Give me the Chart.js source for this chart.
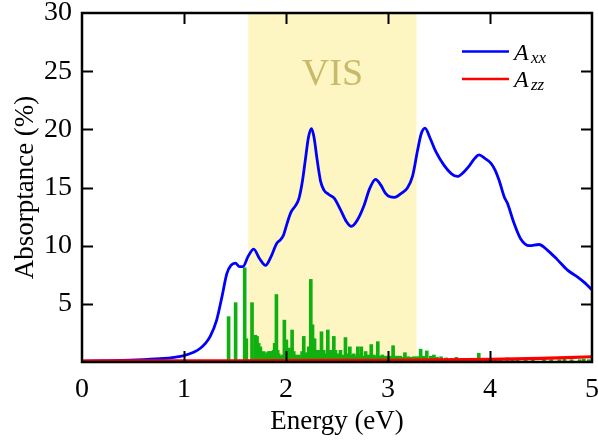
<!DOCTYPE html>
<html>
<head>
<meta charset="utf-8">
<script src="https://cdn.jsdelivr.net/npm/chart.js@4.4.1/dist/chart.umd.min.js"></script>
<style>
  html, body { margin: 0; padding: 0; background: #fff; }
  #wrap { width: 598px; height: 444px; }
</style>
</head>
<body>
<div id="wrap"><canvas id="absorb" width="598" height="444"></canvas></div>
<script>
// absorptance spectrum, A_xx / A_zz plus stick spectrum
const visRange = [1.63, 3.28];

const axxE = [0, 0.3, 0.6, 0.8, 0.9, 1.0, 1.1, 1.16, 1.21, 1.257, 1.32, 1.372, 1.42, 1.46, 1.503, 1.545, 1.578, 1.63, 1.683, 1.74, 1.80, 1.85, 1.91, 1.945, 1.975, 2.01, 2.05, 2.09, 2.125, 2.16, 2.19, 2.22, 2.25, 2.275, 2.305, 2.34, 2.37, 2.42, 2.47, 2.534, 2.59, 2.642, 2.70, 2.763, 2.82, 2.878, 2.93, 2.976, 3.02, 3.065, 3.13, 3.19, 3.24, 3.29, 3.325, 3.363, 3.41, 3.468, 3.55, 3.62, 3.68, 3.74, 3.8, 3.85, 3.893, 3.95, 4.008, 4.05, 4.09, 4.139, 4.17, 4.237, 4.30, 4.385, 4.48, 4.565, 4.66, 4.76, 4.86, 4.93, 5.0];
const axxA = [0.08, 0.12, 0.2, 0.3, 0.4, 0.55, 0.85, 1.18, 1.6, 2.2, 3.6, 5.6, 7.6, 8.3, 8.5, 8.2, 8.2, 9.1, 9.7, 8.9, 8.3, 9.0, 10.2, 10.5, 10.9, 11.9, 12.9, 13.4, 14.0, 15.5, 17.4, 19.3, 20.05, 19.3, 17.4, 15.5, 14.8, 14.4, 14.1, 13.1, 12.1, 11.65, 12.2, 13.4, 14.9, 15.7, 15.2, 14.5, 14.2, 14.15, 14.5, 14.95, 15.95, 18.2, 19.6, 20.1, 19.3, 18.1, 16.9, 16.2, 15.95, 16.3, 16.9, 17.5, 17.8, 17.5, 17.1, 16.5, 15.6, 14.2, 13.66, 11.9, 10.6, 10.0, 10.1, 9.6, 8.8, 7.9, 7.3, 6.8, 6.2];

const azzE = [0, 1, 2, 3, 3.5, 4, 4.5, 5];
const azzA = [0.08, 0.1, 0.12, 0.15, 0.18, 0.23, 0.32, 0.45];

const stickE = [1.437, 1.506, 1.595, 1.611, 1.667, 1.70, 1.716, 1.732, 1.749, 1.765, 1.781, 1.798, 1.814, 1.83, 1.847, 1.863, 1.879, 1.889, 1.906, 1.918, 1.929, 1.95, 1.967, 1.984, 2.004, 2.02, 2.03, 2.045, 2.06, 2.076, 2.09, 2.109, 2.125, 2.142, 2.158, 2.174, 2.19, 2.2, 2.212, 2.223, 2.243, 2.26, 2.28, 2.29, 2.3, 2.32, 2.335, 2.348, 2.37, 2.39, 2.41, 2.43, 2.453, 2.469, 2.485, 2.508, 2.52, 2.534, 2.55, 2.567, 2.583, 2.6, 2.613, 2.626, 2.645, 2.665, 2.685, 2.704, 2.72, 2.738, 2.76, 2.78, 2.795, 2.81, 2.823, 2.836, 2.85, 2.862, 2.88, 2.90, 2.92, 2.932, 2.944, 2.957, 2.97, 2.993, 3.005, 3.02, 3.035, 3.05, 3.07, 3.09, 3.105, 3.12, 3.14, 3.155, 3.166, 3.185, 3.2, 3.225, 3.25, 3.28, 3.3, 3.32, 3.35, 3.38, 3.42, 3.45, 3.48, 3.52, 3.57, 3.62, 3.67, 3.72, 3.75, 3.8, 3.84, 3.89, 3.93, 4.0, 4.05, 4.1, 4.17, 4.22, 4.27, 4.35, 4.42, 4.53, 4.6, 4.68, 4.73, 4.8, 4.88, 4.92, 4.97];
const stickA = [3.9, 5.1, 8.1, 2.0, 5.1, 2.3, 2.2, 1.6, 1.3, 0.6, 0.9, 0.5, 0.8, 0.9, 0.9, 0.9, 1.0, 1.6, 5.8, 1.0, 0.7, 0.5, 0.6, 3.6, 1.9, 0.6, 1.2, 0.7, 2.75, 0.9, 0.6, 0.5, 0.6, 0.5, 0.9, 2.2, 0.6, 0.8, 0.6, 1.3, 7.1, 3.2, 2.0, 1.0, 1.0, 1.0, 0.7, 2.6, 1.0, 0.7, 2.75, 1.0, 1.0, 2.2, 1.0, 0.7, 0.6, 1.0, 0.6, 0.5, 2.1, 0.7, 0.5, 1.3, 0.6, 0.7, 0.5, 1.3, 0.6, 1.3, 0.5, 0.9, 0.5, 0.6, 0.4, 1.5, 0.5, 0.6, 0.5, 1.75, 0.5, 0.4, 0.6, 0.4, 0.5, 0.5, 0.4, 0.5, 0.4, 1.4, 0.5, 0.5, 0.4, 0.5, 0.4, 0.4, 0.8, 0.4, 0.45, 0.4, 0.45, 0.45, 0.45, 1.1, 0.5, 0.95, 0.5, 0.6, 0.4, 0.45, 0.35, 0.3, 0.4, 0.25, 0.3, 0.2, 0.3, 0.75, 0.25, 0.3, 0.2, 0.25, 0.35, 0.2, 0.25, 0.2, 0.2, 0.35, 0.2, 0.2, 0.25, 0.2, 0.2, 0.25, 0.2];

const xTicks = [0, 1, 2, 3, 4, 5];
const yTicks = [0, 5, 10, 15, 20, 25, 30];

const serif = '"Liberation Serif", "Times New Roman", serif';
const pts = (xs, ys) => xs.map((x, i) => ({ x, y: ys[i] }));

const frame = {
  id: 'frame',
  beforeDatasetsDraw(chart) {
    const { ctx, chartArea: a, scales: { x, y } } = chart;
    const x0 = x.getPixelForValue(visRange[0]);
    const x1 = x.getPixelForValue(visRange[1]);
    ctx.save();
    ctx.fillStyle = '#fdf6c3';
    ctx.fillRect(x0, a.top, x1 - x0, a.bottom - a.top);
    ctx.fillStyle = '#c9b96a';
    ctx.font = '38px ' + serif;
    ctx.textAlign = 'center';
    ctx.textBaseline = 'middle';
    ctx.fillText('VIS', (x0 + x1) / 2, y.getPixelForValue(24.7));
    ctx.restore();
  },
  afterDatasetsDraw(chart) {
    const { ctx, chartArea: a, scales: { x, y } } = chart;
    const len = 11;
    ctx.save();
    ctx.strokeStyle = '#000';
    ctx.lineWidth = 2;
    ctx.beginPath();
    xTicks.slice(1, -1).forEach(v => {
      const px = Math.round(x.getPixelForValue(v)) + 0.5;
      ctx.moveTo(px, a.bottom); ctx.lineTo(px, a.bottom - len);
      ctx.moveTo(px, a.top); ctx.lineTo(px, a.top + len);
    });
    yTicks.slice(1, -1).forEach(v => {
      const py = Math.round(y.getPixelForValue(v)) + 0.5;
      ctx.moveTo(a.left, py); ctx.lineTo(a.left + len, py);
      ctx.moveTo(a.right, py); ctx.lineTo(a.right - len, py);
    });
    ctx.stroke();
    ctx.lineWidth = 2.5;
    ctx.strokeRect(a.left, a.top, a.right - a.left, a.bottom - a.top);

    // legend
    const entries = [['xx', '#0000ff'], ['zz', '#ff0000']];
    entries.forEach(([sub, col], i) => {
      const ly = a.top + 38.5 + i * 27.5;
      ctx.strokeStyle = col;
      ctx.lineWidth = 2.5;
      ctx.beginPath();
      ctx.moveTo(a.right - 130, ly); ctx.lineTo(a.right - 83, ly);
      ctx.stroke();
      ctx.fillStyle = '#000';
      ctx.textAlign = 'left';
      ctx.textBaseline = 'alphabetic';
      ctx.font = 'italic 24px ' + serif;
      ctx.fillText('A', a.right - 78, ly + 8);
      ctx.font = 'italic 17px ' + serif;
      ctx.fillText(sub, a.right - 61, ly + 11);
    });
    ctx.restore();
  }
};

new Chart(document.getElementById('absorb'), {
  type: 'bar',
  data: {
    datasets: [
      {
        type: 'line',
        label: 'A_zz',
        data: pts(azzE, azzA),
        borderColor: '#ff0000',
        borderWidth: 3.2,
        pointRadius: 0,
        tension: 0.3,
        order: 1
      },
      {
        type: 'line',
        label: 'A_xx',
        data: pts(axxE, axxA),
        borderColor: '#0000ff',
        borderWidth: 2.8,
        pointRadius: 0,
        cubicInterpolationMode: 'monotone',
        order: 2
      },
      {
        type: 'bar',
        label: 'sticks',
        data: pts(stickE, stickA),
        backgroundColor: '#10b010',
        barThickness: 3,
        order: 3
      }
    ]
  },
  options: {
    responsive: false,
    animation: false,
    layout: { padding: { top: 13, right: 6, left: 0, bottom: 0 } },
    plugins: { legend: { display: false }, tooltip: { enabled: false } },
    scales: {
      x: {
        type: 'linear',
        min: 0, max: 5,
        offset: false,
        grid: { display: false, drawTicks: false },
        border: { display: false },
        ticks: { stepSize: 1, color: '#000', padding: 11, font: { family: serif, size: 28 } },
        title: { display: true, text: 'Energy (eV)', color: '#000', padding: { top: 0, bottom: 6 }, font: { family: serif, size: 27 } },
        afterFit: s => { s.height = 82; s.paddingLeft = 0; s.paddingRight = 0; }
      },
      y: {
        min: 0, max: 30,
        grid: { display: false, drawTicks: false },
        border: { display: false },
        ticks: { stepSize: 5, color: '#000', padding: 10, font: { family: serif, size: 28 }, callback: v => v === 0 ? '' : v },
        title: { display: true, text: 'Absorptance (%)', color: '#000', padding: { top: 10, bottom: 0 }, font: { family: serif, size: 27 } },
        afterFit: s => { s.width = 82; s.paddingTop = 0; s.paddingBottom = 0; }
      }
    }
  },
  plugins: [frame]
});
</script>
</body>
</html>
